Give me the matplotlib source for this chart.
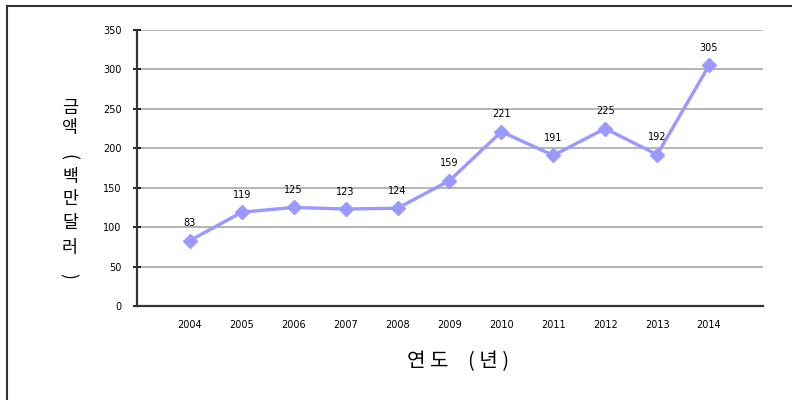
import numpy as np
import matplotlib
matplotlib.use("Agg")
import matplotlib.pyplot as plt
from matplotlib.lines import Line2D

plt.rcParams['font.family'] = ['Noto Sans CJK KR', 'DejaVu Sans']

# 데이터
years = ['2004', '2005', '2006', '2007', '2008', '2009', '2010', '2011', '2012', '2013', '2014']
amounts = [83, 119, 125, 123, 124, 159, 221, 191, 225, 192, 305]
y_ticks = [0, 50, 100, 150, 200, 250, 300, 350]

fig = plt.figure(figsize=(7.92, 4.0), dpi=100)
ax = fig.add_axes([137 / 792, 94 / 400, 626 / 792, 276 / 400])

x = np.arange(len(years))
ax.plot(x, amounts, color='#9999ff', lw=2.4, marker='D', ms=7, zorder=3)
for xi, v in zip(x, amounts):
    ax.annotate(str(v), (xi, v), xytext=(0, 9), textcoords='offset points',
                ha='center', va='bottom', fontsize=7, family='DejaVu Sans')

ax.set_xlim(-1.02, 11.04)
ax.set_ylim(0, 350)
ax.set_xticks(x)
ax.set_xticklabels(years, fontsize=7, family='DejaVu Sans')
ax.set_yticks(y_ticks)
ax.set_yticklabels([str(t) for t in y_ticks], fontsize=7, family='DejaVu Sans')
ax.tick_params(axis='x', length=0, pad=10)
ax.tick_params(axis='y', direction='inout', length=6, width=1.2, pad=8)
ax.yaxis.grid(True, color='#a0a0a0', lw=1.1)
ax.set_axisbelow(True)
for s in ['top', 'right']:
    ax.spines[s].set_visible(False)
for s in ['left', 'bottom']:
    ax.spines[s].set_color('#333333')
    ax.spines[s].set_linewidth(1.6)

# 세로 축 제목 (글자를 세워서 쌓고, 괄호는 눕힘)
ylab = [('금', 108, 0), ('액', 128, 0), ('(', 157, -90), ('백', 177, 0),
        ('만', 199, 0), ('달', 223, 0), ('러', 248, 0), (')', 276, -90)]
for ch, ypix, rot in ylab:
    xpix = 70 if rot == 0 else 68
    fig.text(xpix / 792, 1 - ypix / 400, ch, ha='center', va='center',
             fontsize=12.5, rotation=rot)

fig.text(428 / 792, 1 - 362 / 400, '연 도', ha='center', va='center', fontsize=14.5)
fig.text(489 / 792, 1 - 362 / 400, '( 년 )', ha='center', va='center', fontsize=14.5)

# 바깥 테두리
fig.add_artist(Line2D([7 / 792, 7 / 792], [0, 1 - 6 / 400], transform=fig.transFigure, color='#333333', lw=1.5))
fig.add_artist(Line2D([7 / 792, 1], [1 - 6 / 400, 1 - 6 / 400], transform=fig.transFigure, color='#333333', lw=1.5))

fig.savefig('out.png', dpi=100)
